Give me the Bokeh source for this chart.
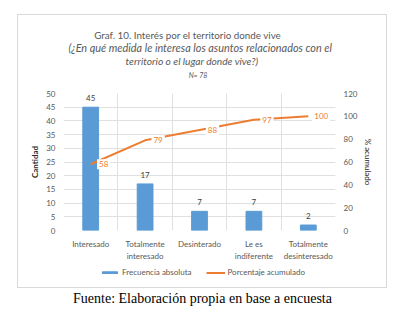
from bokeh.plotting import figure
from bokeh.models import (Range1d, LinearAxis, FixedTicker, Legend, LegendItem,
                          ColumnDataSource, Spacer)
from bokeh.layouts import column, row
from bokeh.core.properties import value
from bokeh.embed import file_html
from bokeh.resources import INLINE

categories = ["Interesado", "Totalmente\ninteresado", "Desinterado", "Le es\nindiferente", "Totalmente\ndesinteresado"]
frecuencia = [45, 17, 7, 7, 2]
porcentaje = [58, 79, 88, 97, 100]
left_ticks = [0, 5, 10, 15, 20, 25, 30, 35, 40, 45, 50]
right_ticks = [0, 20, 40, 60, 80, 100, 120]

title_lines = ["Graf. 10. Interés por el territorio donde vive",
               "(¿En qué medida le interesa los asuntos relacionados con el",
               "territorio o el lugar donde vive?)",
               "N= 78"]
legend_labels = ["Frecuencia absoluta", "Porcentaje acumulado"]
footnote = "Fuente: Elaboración propia en base a encuesta"

FONT = "Lato"
GRAY = "#595959"
BLUE = "#5B9BD5"
ORANGE = "#ED7D31"

BOX_W = 368

def blank(w, h):
    f = figure(width=w, height=h, output_backend="svg", toolbar_location=None,
               x_range=Range1d(0, w), y_range=Range1d(0, h),
               min_border=0, outline_line_color=None, border_fill_color="white",
               background_fill_color="white")
    f.axis.visible = False
    f.grid.visible = False
    return f

# ---------- title block ----------
tf = blank(BOX_W, 70)
tsrc = ColumnDataSource(dict(
    x=[168, 185, 174, 182],
    y=[70 - 19, 70 - 32, 70 - 45, 70 - 59],
    t=title_lines,
    s=["9.8px", "10.9px", "10.2px", "7px"],
    st=["normal", "italic", "italic", "italic"]))
tf.text(x="x", y="y", text="t", source=tsrc, text_align="center", text_baseline="middle",
        text_font=value(FONT), text_font_size="s", text_font_style="st", text_color=GRAY)

# ---------- main chart ----------
xs = [i + 0.5 for i in range(len(categories))]
src = ColumnDataSource(dict(x=xs, f=frecuencia, p=porcentaje,
                            ft=[str(v) for v in frecuencia], pt=[str(v) for v in porcentaje]))

p = figure(width=BOX_W, height=178, output_backend="svg", toolbar_location=None,
           x_range=Range1d(0, 5), y_range=Range1d(0, 50),
           min_border_left=45, min_border_right=51, min_border_top=8, min_border_bottom=33,
           outline_line_color=None, background_fill_color="white", border_fill_color="white")
p.extra_y_ranges = {"pct": Range1d(0, 120)}

p.yaxis.ticker = FixedTicker(ticks=left_ticks)
p.yaxis.axis_label = "Cantidad"
p.yaxis.axis_label_text_font_style = "bold"
p.yaxis.axis_label_text_font_size = "8px"
p.yaxis.axis_label_text_color = "#262626"
p.yaxis.axis_label_text_font = FONT
p.yaxis.axis_label_standoff = 3

p.xaxis.ticker = FixedTicker(ticks=xs)
p.xaxis.major_label_overrides = {x: c for x, c in zip(xs, categories)}

ry = LinearAxis(y_range_name="pct", ticker=FixedTicker(ticks=right_ticks),
                axis_label="% acumulado")
p.add_layout(ry, "right")
ry.axis_label_text_font_style = "normal"
ry.axis_label_text_font_size = "8px"
ry.axis_label_text_color = "#262626"
ry.axis_label_text_font = FONT
ry.axis_label_standoff = 3

for ax in [p.xaxis[0], p.yaxis[0], ry]:
    ax.axis_line_color = None
    ax.major_tick_line_color = None
    ax.minor_tick_line_color = None
    ax.major_tick_out = 0
    ax.major_tick_in = 0
    ax.major_label_text_font = FONT
    ax.major_label_text_font_size = "8px"
    ax.major_label_text_color = GRAY
    ax.major_label_standoff = 8

p.xgrid.ticker = FixedTicker(ticks=[0, 1, 2, 3, 4, 5])
p.ygrid.ticker = FixedTicker(ticks=left_ticks)
p.xgrid.grid_line_color = "#e0e0e0"
p.ygrid.grid_line_color = "#e0e0e0"

p.vbar(x="x", top="f", width=0.29, source=src, color=BLUE)
p.line(x="x", y="p", source=src, y_range_name="pct", color=ORANGE, line_width=2)

p.text(x="x", y="f", text="ft", source=src, text_align="center", text_baseline="bottom",
       y_offset=-6, text_font=value(FONT), text_font_size="8px", text_color="#404040")
p.text(x="x", y="p", text="pt", source=src, y_range_name="pct", text_align="center",
       text_baseline="middle", x_offset=13, text_font=value(FONT), text_font_size="8px",
       text_color=ORANGE, background_fill_color="white", padding=2)

# ---------- legend block ----------
lf = blank(BOX_W, 24)
# legend swatch renderers drawn off-range so only the legend shows them
lb = lf.vbar(x=[-100], top=[-100], width=1, color=BLUE)
ll = lf.line(x=[-100, -90], y=[-100, -100], color=ORANGE, line_width=2)
legend = Legend(items=[LegendItem(label=legend_labels[0], renderers=[lb]),
                       LegendItem(label=legend_labels[1], renderers=[ll])],
                orientation="horizontal", location=(37, 10), border_line_color=None,
                background_fill_alpha=0, label_text_font=FONT, label_text_font_size="8px",
                label_text_color=GRAY, glyph_width=19, glyph_height=3, spacing=14,
                padding=0, margin=0, label_standoff=3, label_height=10)
lf.add_layout(legend, "center")

box = column(tf, p, lf, styles={"border": "1px solid #d9d9d9"})

# ---------- footnote ----------
ff = blank(406, 28)
ff.text(x=[202], y=[28 - 10], text=[footnote], text_align="center", text_baseline="middle",
        text_font=value("Liberation Serif"), text_font_size="14px", text_color="black")

layout = column(Spacer(height=14), row(Spacer(width=17), box), ff)

open("out.html", "w").write(file_html(layout, INLINE))
